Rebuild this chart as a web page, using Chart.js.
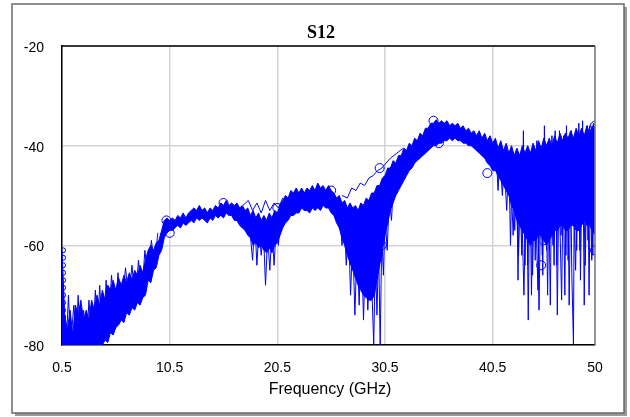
<!DOCTYPE html>
<html>
<head>
  <meta charset="UTF-8">
  <title>S12</title>
  <script src="https://cdn.jsdelivr.net/npm/chart.js"></script>
  <style>
    body { margin: 0; background: #fff; }
    canvas { display: block; }
  </style>
</head>
<body>
  <canvas id="chart" width="630" height="417"></canvas>

  <script>
    // frequency grid (GHz) of the band envelope
    const freq = [0.5, 0.75,
      1, 1.25, 1.5, 1.75, 2, 2.25, 2.5, 2.75, 3, 3.25, 3.5, 3.75, 4, 4.25, 4.5, 4.75, 5, 5.25, 5.5, 5.75,
      6, 6.25, 6.5, 6.75, 7, 7.25, 7.5, 7.75, 8, 8.25, 8.5, 8.75, 9, 9.25, 9.5, 9.75, 10, 10.25, 10.5, 10.75,
      11, 11.25, 11.5, 11.75, 12, 12.25, 12.5, 12.75, 13, 13.25, 13.5, 13.75, 14, 14.25, 14.5, 14.75, 15, 15.25, 15.5, 15.75,
      16, 16.25, 16.5, 16.75, 17, 17.25, 17.5, 17.75, 18, 18.25, 18.5, 18.75, 19, 19.25, 19.5, 19.75, 20, 20.25, 20.5, 20.75,
      21, 21.25, 21.5, 21.75, 22, 22.25, 22.5, 22.75, 23, 23.25, 23.5, 23.75, 24, 24.25, 24.5, 24.75, 25, 25.25, 25.5, 25.75,
      26, 26.25, 26.5, 26.75, 27, 27.25, 27.5, 27.75, 28, 28.25, 28.5, 28.75, 29, 29.25, 29.5, 29.75, 30, 30.25, 30.5, 30.75,
      31, 31.25, 31.5, 31.75, 32, 32.25, 32.5, 32.75, 33, 33.25, 33.5, 33.75, 34, 34.25, 34.5, 34.75, 35, 35.25, 35.5, 35.75,
      36, 36.25, 36.5, 36.75, 37, 37.25, 37.5, 37.75, 38, 38.25, 38.5, 38.75, 39, 39.25, 39.5, 39.75, 40, 40.25, 40.5, 40.75,
      41, 41.25, 41.5, 41.75, 42, 42.25, 42.5, 42.75, 43, 43.25, 43.5, 43.75, 44, 44.25, 44.5, 44.75, 45, 45.25, 45.5, 45.75,
      46, 46.25, 46.5, 46.75, 47, 47.25, 47.5, 47.75, 48, 48.25, 48.5, 48.75, 49, 49.25, 49.5, 49.75, 50];
    // upper edge of the bundle of traces (dB)
    const bandTop = [-61, -74,
      -77, -73, -78, -72, -74, -71, -75, -73, -75, -71, -73, -70, -72, -69, -71, -68, -69, -67, -69, -66.5,
      -68, -66, -67.5, -65.5, -67, -65, -66, -64, -65.5, -63, -61, -60, -61, -59.5, -59, -57, -55, -54.5, -55, -54.5,
      -55, -54, -54.5, -53.5, -54.5, -53.5, -53, -52.5, -53, -52, -53, -52.5, -53.5, -52.5, -53, -52, -52.5, -51.5, -52, -51,
      -52, -51.5, -52, -51.5, -52.5, -52, -53, -52.5, -54, -53, -54.5, -53.5, -55, -54, -55, -53.5, -54.5, -53, -53.5, -52,
      -51, -50, -50.5, -49, -49.5, -48.5, -49.5, -48.5, -49.5, -48.5, -49, -48, -49, -47.5, -48.5, -48, -49, -48, -49, -49.5,
      -50.5, -50, -51.5, -51, -52.5, -51.5, -52.5, -52, -53, -51.5, -52, -50.5, -51, -49.5, -49.5, -48, -48, -46.5, -46, -44.5,
      -44.5, -43, -43.5, -42, -42, -40.5, -41, -39.5, -40, -38.5, -39, -37.5, -38, -36.5, -36.5, -35.5, -35.5, -34.8, -35.5, -35,
      -35.5, -35, -36, -35.5, -36, -35.5, -36.5, -36, -37, -36.5, -37.5, -37, -38, -37, -38.5, -37.5, -39, -38, -39.5, -38.5,
      -40.5, -39, -41, -39.5, -41.5, -40, -42, -40.5, -42, -40, -41.5, -40, -41.5, -39.5, -41, -39, -40.5, -38.5, -40, -38.5,
      -40, -38, -39.5, -37.5, -39, -37.5, -38.5, -37, -38.5, -36.5, -38, -36.5, -38, -36, -37.5, -36, -37];
    // lower edge of the bundle (dB)
    const bandBottom = [-80, -80,
      -80, -80, -80, -80, -80, -80, -80, -80, -80, -80, -80, -80, -80, -80, -79, -79.5, -77.5, -78, -76.5, -76,
      -75, -75.5, -73.5, -74, -72.5, -73, -71.5, -72, -70.5, -70, -67, -67.5, -65, -64.5, -62, -61, -58.5, -57.5, -57, -57,
      -56.5, -56, -56.5, -55.5, -56, -55.5, -55, -55.5, -54.5, -55, -54.5, -55, -55.5, -54.5, -55, -54, -54.5, -54, -54.5, -53.5,
      -54, -54, -55, -55, -56, -56.5, -57, -58, -58.5, -60, -59.5, -60.5, -60, -61, -61.5, -60.5, -61.5, -60, -59.5, -58,
      -56.5, -55.5, -55, -54, -54, -53.5, -53.5, -52.5, -53, -53, -53.5, -52.5, -53, -52.5, -53, -52, -52.5, -52.5, -53.5, -54,
      -55.5, -56.5, -58.5, -60, -62, -63.5, -65, -66.5, -68, -69, -70, -70.5, -71, -71, -70, -67, -64, -61, -58, -55.5,
      -53, -51.5, -50, -49, -48, -47, -46, -45, -44.5, -43.5, -43, -42.5, -42, -41.5, -41, -40.5, -40, -40, -39.5, -39.5,
      -39, -39, -38.5, -39, -38.5, -39, -39, -39.5, -39.5, -40, -40, -40.5, -41, -41.5, -42, -42.5, -43.5, -44, -45, -45,
      -46, -47, -48, -49, -50, -52, -53, -55, -56, -57, -58, -59, -60, -59, -59, -58, -58, -59, -60, -59,
      -58, -57, -57, -56, -56, -57, -57, -56, -56, -57, -57, -56, -55, -56, -56, -57, -58];

    // noisy excursions of individual traces
    const spikeFreq = [0.6, 0.8, 0.9, 1.1, 1.3, 1.6, 1.8, 2.0, 2.2, 2.5, 2.8, 3.0, 3.3, 3.6, 3.8, 4.0, 4.3, 4.6, 4.8, 5.1,
      5.4, 5.7, 6.0, 6.4, 6.7, 7.0, 7.3, 7.6, 7.9, 8.2, 8.5, 8.8, 9.1, 9.4, 9.6,
      17.8, 18.0, 18.2, 18.4, 18.6, 18.8, 19.0, 19.2, 19.4, 19.6, 19.8, 20.0, 20.2, 20.4, 20.6, 20.8, 21.0,
      26.3, 26.5, 26.7, 26.9, 27.1, 27.3, 27.5, 27.7, 27.9, 28.1, 28.3, 28.5, 28.7, 28.9, 29.1, 29.3, 29.45, 29.6,
      29.75, 29.9, 30.05, 30.2, 30.35, 30.5, 30.7, 30.9, 31.1, 31.3, 31.5,
      40.8, 41.0, 41.15, 41.4, 41.55, 41.8, 42.0, 42.15, 42.3, 42.55, 42.7, 42.85, 43.0, 43.2, 43.35, 43.5, 43.65, 43.8,
      43.95, 44.1, 44.3, 44.45, 44.6, 44.8, 45.0, 45.15, 45.3, 45.5, 45.65, 45.85, 46.0, 46.2, 46.35, 46.5, 46.7, 46.85,
      47.0, 47.2, 47.35, 47.5, 47.7, 47.85, 48.0, 48.1, 48.3, 48.5, 48.65, 48.85, 49.0, 49.2, 49.35, 49.5, 49.7, 49.85, 50.0];
    const spikeLevel = [-80, -74, -80, -70, -80, -72, -80, -70, -80, -73, -80, -71, -80, -69, -78, -68, -79, -67, -76, -66,
      -75, -65.5, -74, -64.5, -71, -64, -72, -63, -70, -61, -67, -59, -64, -57.5, null,
      -54, -58, -63, -55, -64, -56, -62, -57, -68, -58, -65, -57, -64, -56, -60, -54, null,
      -53, -60, -55, -64, -56, -70, -58, -74, -60, -72, -57, -75, -60, -73, -62, -70, -80, -62,
      -74, -60, -80, -58, -66, -54, -61, -50, -55, -47, null,
      -41, -49, -42, -50, -43, -53, -42, -60, -44, -57, -41, -67, -45, -62, -37, -64, -42, -75,
      -44, -70, -40, -63, -39, -73, -43, -66, -36, -61, -41, -72, -38, -64, -40, -74, -37, -58,
      -39, -70, -36, -63, -40, -66, -80, -38, -61, -35.5, -67, -35, -72, -38, -59, -36, -63, -35.5, -45];
    const spikeFreq2 = [42.2, 42.4, 42.6, 42.9, 43.1, 43.4, 43.6, 43.75, 44.0, 44.2, 44.4, 44.7, 44.9, 45.1, 45.4, 45.6,
      45.75, 46.1, 46.3, 46.45, 46.6, 46.9, 47.1, 47.3, 47.45, 47.6, 47.8, 48.2, 48.4, 48.6, 48.8, 49.1, 49.3, 49.45,
      49.6, 49.8, 49.95];
    const spikeLevel2 = [-47, -58, -45, -62, -44, -70, -46, -64, -42, -66, -45, -69, -41, -62, -40, -70,
      -43, -60, -37, -64, -42, -71, -38, -62, -41, -72, -37, -65, -39, -61, -37, -64, -36, -70,
      -40, -62, -36];

    // single traces that leave the bundle
    const strayFreqA = [17.3, 17.8, 18.2, 18.6, 19.0, 19.4, 19.8, 20.2, 20.6, 21.0];
    const strayLevelA = [-52, -51, -53, -51.5, -53.5, -51, -53, -51.5, -52.5, -50.5];
    const strayFreqB = [26.5, 27.0, 27.4, 27.8, 28.2, 28.6, 29.0, 29.4, 29.8, 30.2, 30.6, 31.0, 31.6, 32.2];
    const strayLevelB = [-50, -50.5, -48.5, -49, -47.5, -48, -46.5, -46, -45, -44.5, -43.5, -42.5, -41.5, -40.5];

    // open circle markers
    const edgeMarkFreq = [0.6, 0.6, 0.6, 0.6, 0.6, 0.6, 0.6, 0.6, 0.6, 0.6, 0.6, 0.6, 0.6];
    const edgeMarkLevel = [-61, -62.5, -64, -65.5, -67, -68.5, -70, -71.5, -73, -74.5, -76, -77.5, -79];
    const markFreq = [10.2, 10.5, 15.5, 20.5, 20.5, 25.5, 26, 30, 30.2, 35, 35.5, 40, 45, 45.2, 50, 50];
    const markLevel = [-55, -57.5, -51.5, -52.5, -55.5, -49, -53, -44.5, -60, -35, -39.5, -45.5, -64, -59, -36, -61];

    const xTicks = [0.5, 10.5, 20.5, 30.5, 40.5, 50];

    const blue = '#0000ff';
    const pts = (xs, ys) => xs.map((x, i) => ({ x: x, y: ys[i] }));
    const lineSet = (data, extra) => Object.assign({
      data, borderColor: blue, borderWidth: 1, pointRadius: 0, tension: 0, fill: false
    }, extra || {});

    const frame = {
      id: 'frame',
      beforeDraw(c) {
        const g = c.ctx;
        g.save();
        g.fillStyle = '#fff';
        g.fillRect(0, 0, 630, 417);
        g.fillStyle = '#9a9a9a';
        g.fillRect(15, 7, 612, 409);
        g.fillStyle = '#fff';
        g.fillRect(12, 4, 612, 409);
        g.strokeStyle = '#6a6a6a';
        g.lineWidth = 1.5;
        g.strokeRect(12, 4, 612, 409);
        g.restore();
      },
      afterDraw(c) {
        const g = c.ctx, a = c.chartArea;
        g.save();
        g.lineWidth = 1.5;
        g.strokeStyle = '#000';
        g.beginPath(); g.moveTo(a.left, a.top); g.lineTo(a.right, a.top); g.stroke();
        g.strokeStyle = '#7a7a7a';
        g.beginPath(); g.moveTo(a.right, a.top); g.lineTo(a.right, a.bottom); g.stroke();
        g.fillStyle = '#000';
        g.textAlign = 'center';
        g.textBaseline = 'middle';
        g.font = 'bold 18px "Liberation Serif"';
        g.fillText('S12', 321, 33);
        g.font = '16px "Liberation Sans"';
        g.fillText('Frequency (GHz)', 330, 390);
        g.restore();
      }
    };

    new Chart(document.getElementById('chart'), {
      type: 'line',
      data: {
        datasets: [
          lineSet(pts(freq, bandTop)),
          lineSet(pts(freq, bandBottom), { fill: '-1', backgroundColor: blue }),
          lineSet(pts(spikeFreq, spikeLevel)),
          lineSet(pts(spikeFreq2, spikeLevel2)),
          lineSet(pts(strayFreqA, strayLevelA)),
          lineSet(pts(strayFreqB, strayLevelB)),
          { data: pts(edgeMarkFreq, edgeMarkLevel), showLine: false, pointRadius: 2.5,
            pointBorderColor: blue, pointBackgroundColor: 'rgba(0,0,0,0)', pointBorderWidth: 1 },
          { data: pts(markFreq, markLevel), showLine: false, pointRadius: 4.5,
            pointBorderColor: blue, pointBackgroundColor: 'rgba(0,0,0,0)', pointBorderWidth: 1 }
        ]
      },
      options: {
        responsive: false,
        animation: false,
        layout: { padding: { left: 0, right: 35, top: 46, bottom: 12 } },
        plugins: { legend: { display: false }, tooltip: { enabled: false }, title: { display: false } },
        scales: {
          x: {
            type: 'linear', min: 0.5, max: 50,
            afterBuildTicks: s => { s.ticks = xTicks.map(v => ({ value: v })); },
            afterFit: s => { s.height = 60; },
            grid: { color: '#d4d4d4', lineWidth: 1.5, drawTicks: false },
            border: { color: '#000', width: 1.5 },
            ticks: { autoSkip: false, maxRotation: 0, padding: 15, color: '#000',
              font: { family: '"Liberation Sans"', size: 14 }, callback: v => String(v) }
          },
          y: {
            min: -80, max: -20,
            afterFit: s => { s.width = 62; },
            grid: { color: '#d4d4d4', lineWidth: 1.5, drawTicks: false },
            border: { color: '#000', width: 1.5 },
            ticks: { stepSize: 20, padding: 18, labelOffset: 2, color: '#000',
              font: { family: '"Liberation Sans"', size: 14 } }
          }
        }
      },
      plugins: [frame]
    });
  </script>
</body>
</html>
